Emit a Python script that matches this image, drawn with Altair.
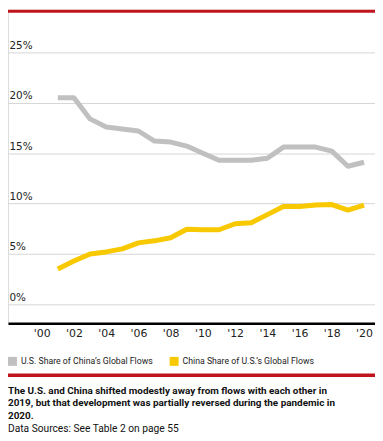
import altair as alt
import pandas as pd

years = list(range(2001, 2021))
us_share_of_china = [20.5, 20.5, 18.4, 17.6, 17.4, 17.2, 16.2, 16.1, 15.7, 15.0,
                     14.3, 14.3, 14.3, 14.5, 15.6, 15.6, 15.6, 15.2, 13.7, 14.1]
china_share_of_us = [3.5, 4.3, 5.0, 5.2, 5.5, 6.1, 6.3, 6.6, 7.45, 7.4,
                     7.4, 8.0, 8.1, 8.9, 9.7, 9.7, 9.85, 9.9, 9.35, 9.85]
series_names = ["U.S. Share of China\u2019s Global Flows", "China Share of U.S.\u2019s Global Flows"]
series_colors = ["#c0c0c0", "#f8c800"]
y_ticks = [0, 5, 10, 15, 20, 25]
x_ticks = list(range(2000, 2021, 2))
caption_bold = [
    "The U.S. and China shifted modestly away from flows with each other in",
    "2019, but that development was partially reversed during the pandemic in",
    "2020.",
]
caption_source = "Data Sources: See Table 2 on page 55"

rows = []
for y, a, b in zip(years, us_share_of_china, china_share_of_us):
    rows.append({"year": y, "series": series_names[0], "value": a})
    rows.append({"year": y, "series": series_names[1], "value": b})
df = pd.DataFrame(rows)

W, H = 370, 316

lines = alt.Chart(df).mark_line(strokeWidth=5, strokeJoin="round").encode(
    x=alt.X("year:Q",
            scale=alt.Scale(domain=[1997.91, 2020.68], nice=False, zero=False),
            axis=alt.Axis(values=x_ticks, title=None, grid=False, ticks=False, tickSize=0,
                          domainColor="#000000", domainWidth=2.5,
                          labelExpr="\"'\" + slice(toString(datum.value), 2)",
                          labelFont="DejaVu Sans", labelFontSize=11, labelColor="#222222",
                          labelPadding=4)),
    y=alt.Y("value:Q",
            scale=alt.Scale(domain=[-1.87, 29.23], nice=False, zero=False),
            axis=alt.Axis(values=y_ticks, title=None, domain=False, ticks=False, tickSize=0,
                          gridColor="#d6d6d6", gridWidth=1,
                          labelExpr="datum.value + '%'",
                          labelAlign="left", labelBaseline="alphabetic",
                          labelPadding=-1, labelOffset=-4,
                          labelFont="DejaVu Sans", labelFontSize=10.5, labelColor="#222222")),
    color=alt.Color("series:N",
                    scale=alt.Scale(domain=series_names, range=series_colors),
                    sort=series_names,
                    legend=alt.Legend(title=None, orient="none", legendX=0, legendY=350,
                                      direction="horizontal", symbolType="square",
                                      symbolSize=1, symbolStrokeWidth=8,
                                      labelFont="Roboto", labelFontSize=8.8,
                                      labelColor="#222222", labelOffset=4,
                                      columnPadding=4, labelLimit=300)),
)

cap_df = pd.DataFrame({"k": [0]})
top_rule = alt.Chart(cap_df).mark_rule(color="#c0141c", strokeWidth=3).encode(
    x=alt.value(0), x2=alt.value(W), y=alt.value(1.5))
bottom_rule = alt.Chart(cap_df).mark_rule(color="#c0141c", strokeWidth=3.5).encode(
    x=alt.value(0), x2=alt.value(W), y=alt.value(368.5))
cap1 = alt.Chart(cap_df).mark_text(align="left", baseline="alphabetic", font="Roboto",
                                   fontWeight="bold", fontSize=10, lineHeight=12.7,
                                   color="#111111").encode(
    x=alt.value(0), y=alt.value(387), text=alt.value(caption_bold))
cap2 = alt.Chart(cap_df).mark_text(align="left", baseline="alphabetic", font="Roboto",
                                   fontSize=10.3, color="#111111").encode(
    x=alt.value(0), y=alt.value(425.3), text=alt.value(caption_source))

chart = alt.layer(lines, top_rule, bottom_rule, cap1, cap2).properties(
    width=W, height=H,
    autosize=alt.AutoSizeParams(type="none"),
    padding={"left": 0, "top": 0, "right": 0, "bottom": 112},
).configure_view(stroke=None).configure(background="#ffffff")

chart.save("out.html", embed_options={"renderer": "svg", "actions": False})
